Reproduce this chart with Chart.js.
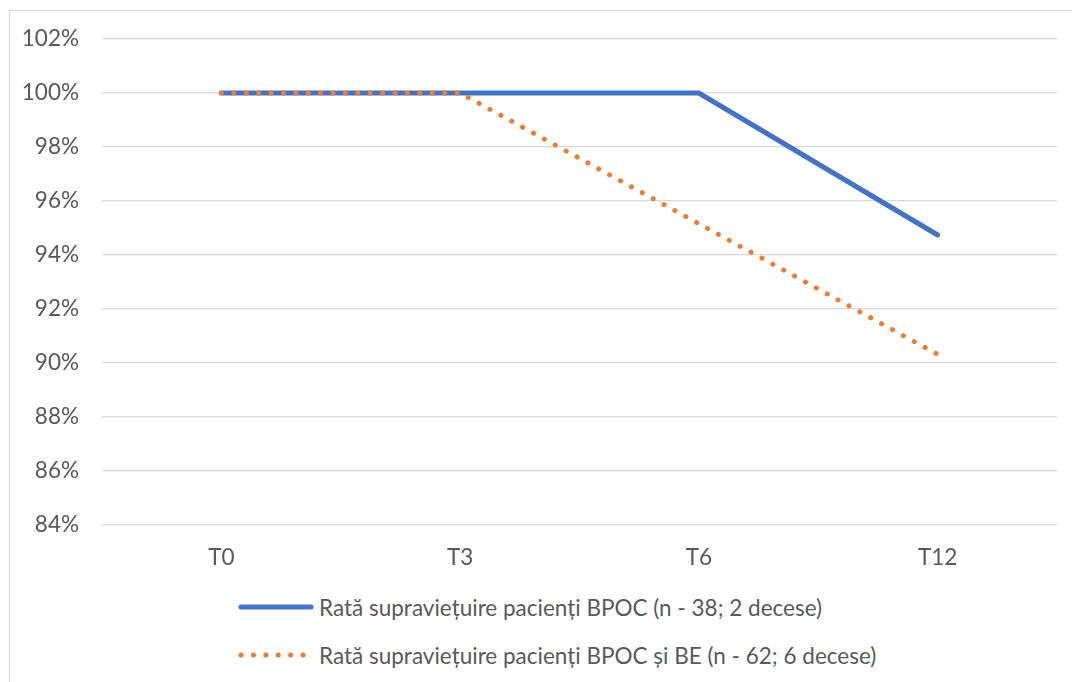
<!DOCTYPE html>
<html>
<head>
<meta charset="utf-8">
<script src="https://cdn.jsdelivr.net/npm/chart.js@4"></script>
<style>
  body { margin: 0; background: #fff; font-family: Lato, sans-serif; }
  #frame { position: absolute; left: 9px; top: 10px; width: 1090px; height: 700px; border: 1px solid #d9d9d9; }
  #wrap { position: absolute; left: 10px; top: 11px; width: 1062px; height: 570px; }
  #legend { position: absolute; left: 238px; top: 592px; color: #595959; font-size: 22.5px; }
  .row { display: flex; align-items: center; height: 30px; margin-bottom: 18px; }
  .row svg { margin-right: 5px; }
</style>
</head>
<body>
<div id="frame"></div>
<div id="wrap"><canvas id="chart" width="1062" height="570"></canvas></div>
<div id="legend"></div>
<script>
// categories and series
const categories = ["T0", "T3", "T6", "T12"];
const bpoc = [100, 100, 100, 94.74];
const bpocBe = [100, 100, 95.16, 90.32];
const seriesNames = [
  "Rată supraviețuire pacienți BPOC (n - 38; 2 decese)",
  "Rată supraviețuire pacienți BPOC și BE (n - 62; 6 decese)"
];
const yMin = 84, yMax = 102, yStep = 2;

const blue = "#4472C4";
const orange = "#ED7D31";
const txt = "#595959";
const fontSize = 22.5;

const ctx = document.getElementById("chart").getContext("2d");
const chart = new Chart(ctx, {
  type: "line",
  data: {
    labels: categories,
    datasets: [
      {
        label: seriesNames[0],
        data: bpoc,
        borderColor: blue,
        borderWidth: 5,
        borderCapStyle: "round",
        pointRadius: 0,
        tension: 0,
        order: 1
      },
      {
        label: seriesNames[1],
        data: bpocBe,
        borderColor: orange,
        borderWidth: 5,
        borderCapStyle: "round",
        borderDash: [0.1, 12.3],
        pointRadius: 0,
        tension: 0,
        order: 0
      }
    ]
  },
  options: {
    responsive: false,
    animation: false,
    layout: { padding: { top: 28, right: 15, left: 0, bottom: 0 } },
    plugins: { legend: { display: false }, tooltip: { enabled: false } },
    scales: {
      x: {
        offset: true,
        grid: { display: false },
        border: { display: false },
        ticks: { color: txt, font: { family: "Lato", size: fontSize }, padding: 11 },
        afterFit: s => { s.height = 56; s.paddingLeft = 0; s.paddingRight = 0; }
      },
      y: {
        min: yMin,
        max: yMax,
        grid: { color: "#d9d9d9", lineWidth: 1.3, drawTicks: false },
        border: { display: false },
        ticks: {
          stepSize: yStep,
          color: txt,
          padding: 23,
          font: { family: "Lato", size: fontSize },
          callback: v => v + "%"
        },
        afterFit: s => { s.width = 92; s.paddingTop = 0; s.paddingBottom = 0; }
      }
    }
  }
});

// 🏷️ legend below the chart, built from the datasets
const legend = document.getElementById("legend");
chart.data.datasets.forEach(ds => {
  const dash = ds.borderDash ? 'stroke-dasharray="0.1 12.3"' : "";
  legend.innerHTML += `
    <div class="row">
      <svg width="76" height="12"><line x1="3" y1="6" x2="73" y2="6" stroke="${ds.borderColor}"
        stroke-width="5" stroke-linecap="round" ${dash}/></svg>
      <span>${ds.label}</span>
    </div>`;
});
</script>
</body>
</html>
